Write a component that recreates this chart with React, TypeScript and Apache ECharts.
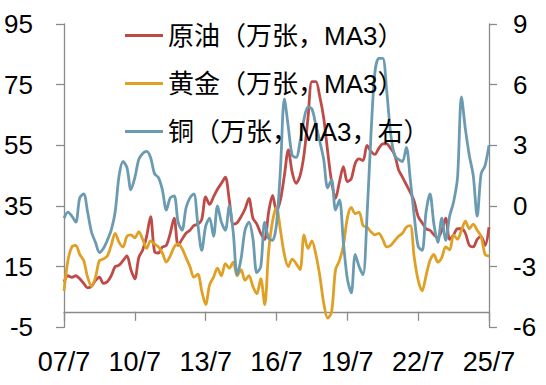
import React, { useEffect, useRef } from "react";
import * as echarts from "echarts";

// bimonthly samples from 2007/7 to 2025/7
const startYear = 2007;
const startMonth = 7;
const stepMonths = 2;

const crudeOil = [
  10, 12, 11.5, 12, 11, 9.5, 8, 8.5, 10.5, 11.5,
  9.5, 10, 12, 15, 15.5, 17, 18.5, 14, 11, 18,
  20.5, 25, 31.5, 20, 19.5, 21.5, 22, 26, 31, 22,
  24, 26, 27, 28.5, 29, 30.5, 38, 35.5, 38, 40.5,
  42.5, 44.5, 37, 29, 29.5, 31.5, 34, 37.5, 31, 29,
  26, 24, 33, 38.5, 33.5, 37, 45, 53.5, 46, 42.5,
  45, 52, 64, 76, 76, 71, 64, 53, 43, 37.5,
  43, 48, 43, 44, 49, 50.5, 50, 55, 53, 52,
  54, 55.5, 55.5, 54, 52, 47, 44.5, 42, 39.5, 36.5,
  31.5, 29.5, 27.5, 27, 25.5, 24.5, 27, 31, 24, 25.5,
  27.5, 27.5, 26, 22, 21.5, 24, 25, 22, 28,
];

const gold = [
  7, 17, 21.5, 22, 19, 17, 11.5, 8.5, 11.5, 17,
  17.5, 18.5, 22, 26, 23, 21.5, 25, 25.5, 24.5, 26.5,
  24, 21, 23.5, 22.5, 21.5, 19.5, 16.5, 18.5, 21.5, 22.5,
  21, 18, 15, 11.5, 12.5, 7, 2.5, 9, 11.5, 14.5,
  12, 16, 14.5, 16.5, 12, 14, 10.5, 12, 8.5, 6,
  11, 2.5, 20, 30, 34.5, 27, 19, 15, 17.5, 16,
  14, 25.5, 21, 23.5, 19, 12, 3, -2, 0, 14,
  17, 22, 31, 34.5, 32.5, 33, 28.5, 28, 26.5, 25.5,
  26, 24, 21.5, 22, 23.5, 25, 26, 28, 28.5, 18,
  10.5, 7, 12, 17, 19, 16.5, 18, 21.5, 20.5, 25.5,
  24, 27, 30, 27.5, 29, 27, 25, 19, 18.5,
];

const copper = [
  -0.6, -0.3, -0.5, -0.8, 0.4, 0.6, -0.3, -1.3, -1.8, -2.3,
  -2.1, -1.7, -1.2, -0.3, 1.5, 2.2, 1.9, 0.8, 1.4, 2.3,
  2.6, 2.7, 2.4, 1.6, 1.4, 0.8, -0.2, 0.4, 0.5, -0.8,
  -1.2, -0.1, 0.4, 0.6, -0.9, -2.2, -1.0, -0.6, -1.5, 0.0,
  -0.8, -1.2, 0.0, -1.3, -3.4, -2.6, -1.2, -0.8, -1.6, -3.3,
  -3.0, -0.8, -1.6, -1.7, -0.9, 1.8, 5.3, 3.9, 2.5, 2.4,
  3.2, 4.3, 4.9, 4.8, 4.0, 3.2, 2.3, 0.9, 1.3, -0.2,
  0.3, -1.8, -3.6, -4.3, -2.4, -3.0, -3.4, -0.5, 3.5, 6.6,
  7.3, 7.3, 5.7, 3.6, 2.5, 2.3, 2.2, 2.9, 1.3, -0.5,
  -2.0, -2.2, -0.3, 0.6, -0.9, -1.8, -0.6, -1.7, -0.5, 0.2,
  1.4, 5.4, 3.8, 2.5, 1.5, -0.5, 1.6, 2.0, 3.0,
];

const categories = crudeOil.map((_, i) => {
  const total = startMonth - 1 + i * stepMonths;
  const y = startYear + Math.floor(total / 12);
  const m = (total % 12) + 1;
  return `${String(y % 100).padStart(2, "0")}/${m}`;
});

const seriesNames = ["原油（万张，MA3）", "黄金（万张，MA3）", "铜（万张，MA3，右）"];
const colors = ["#BE4B48", "#E0A025", "#6B9BB1"];

const leftTicks = { min: -5, max: 95, interval: 20 };
const rightTicks = { min: -6, max: 9, interval: 3 };

const axisGray = "#8a8a8a";
const numFont = "'Liberation Sans', Arial, sans-serif";

export default function App() {
  const ref = useRef<HTMLDivElement>(null);
  useEffect(() => {
    if (!ref.current) return;
    const chart = echarts.init(ref.current, undefined, { renderer: "svg" });
    const yCommon = {
      type: "value" as const,
      splitLine: { show: false },
      axisLine: { show: true, lineStyle: { color: axisGray, width: 1.3 } },
      axisTick: { show: true, length: 8, lineStyle: { color: axisGray, width: 1.3 } },
    };
    chart.setOption({
      animation: false,
      backgroundColor: "#ffffff",
      grid: { left: 64, right: 57, top: 24, bottom: 57.7, containLabel: false },
      legend: {
        orient: "vertical",
        left: 120,
        top: 17,
        itemWidth: 38,
        itemHeight: 3,
        itemGap: 21,
        icon: "rect",
        textStyle: {
          fontFamily: "'Liberation Sans', 'Noto Sans CJK SC', sans-serif",
          fontSize: 26,
          lineHeight: 27,
          color: "#000",
        },
        data: seriesNames,
      },
      xAxis: {
        type: "category",
        data: categories,
        boundaryGap: false,
        offset: -15.5,
        axisLine: { onZero: false, lineStyle: { color: axisGray, width: 1.3 } },
        axisTick: { show: true, interval: 17, length: 9, lineStyle: { color: axisGray, width: 1.3 } },
        axisLabel: {
          interval: 17,
          margin: 37,
          fontSize: 27,
          fontFamily: numFont,
          color: "#000",
        },
        splitLine: { show: false },
      },
      yAxis: [
        {
          ...yCommon,
          position: "left",
          ...leftTicks,
          axisLabel: { margin: 31, fontSize: 26, fontFamily: numFont, color: "#000" },
        },
        {
          ...yCommon,
          position: "right",
          ...rightTicks,
          axisLabel: { margin: 24, fontSize: 26, fontFamily: numFont, color: "#000" },
        },
      ],
      series: [
        { name: seriesNames[0], type: "line", data: crudeOil, yAxisIndex: 0, color: colors[0] },
        { name: seriesNames[1], type: "line", data: gold, yAxisIndex: 0, color: colors[1] },
        { name: seriesNames[2], type: "line", data: copper, yAxisIndex: 1, color: colors[2] },
      ].map((s) => ({
        ...s,
        showSymbol: false,
        symbol: "none",
        smooth: 0.3,
        lineStyle: { width: 2.8 },
      })),
    });
    return () => chart.dispose();
  }, []);
  return (
    <div
      ref={ref}
      style={{ position: "fixed", left: 0, top: 0, width: 546, height: 385, background: "#fff" }}
    />
  );
}
